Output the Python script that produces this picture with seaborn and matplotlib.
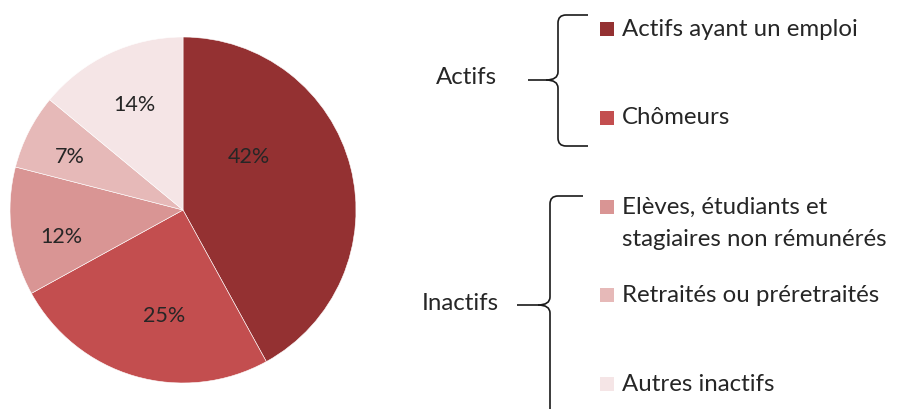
# Données
# ==============================================================================
import numpy as np
import matplotlib.pyplot as plt
from matplotlib.path import Path
from matplotlib.patches import PathPatch, Rectangle
import seaborn as sns

categories = ["Actifs ayant un emploi", "Chômeurs",
              "Elèves, étudiants et\nstagiaires non rémunérés",
              "Retraités ou préretraités", "Autres inactifs"]
values = [42, 25, 12, 7, 14]
colors = ["#943132", "#C34E4F", "#D99594", "#E6B9B8", "#F5E5E6"]
groups = ["Actifs", "Inactifs"]

# Configuración
# ==============================================================================
sns.set_theme(style="white")
plt.rcParams['font.family'] = ['Lato', 'DejaVu Sans']
TXT = "#262626"
FS = 17.3

fig = plt.figure(figsize=(8.99, 4.09), dpi=100)

# Camembert
# ==============================================================================
ax = fig.add_axes([10/899, 26/409, 346/899, 346/409])
wedges, texts, autotexts = ax.pie(
    values, colors=colors, startangle=90, counterclock=False,
    autopct=lambda p: f"{p:.0f}%", pctdistance=0.66,
    wedgeprops=dict(edgecolor="white", linewidth=0.4),
    textprops=dict(color=TXT, fontsize=15.5))
ax.set_xlim(-1, 1)
ax.set_ylim(-1, 1)
ax.set_aspect("equal")

# placement des étiquettes façon Excel (angle en degrés, rayon relatif)
label_angle = [39, 260, 192.6, 155, 114.6]
label_rad = [0.49, 0.62, 0.72, 0.72, 0.67]
for t, ang, rr in zip(autotexts, label_angle, label_rad):
    a = np.deg2rad(ang)
    t.set_position((rr*np.cos(a), rr*np.sin(a)))

# Légende et accolades (coordonnées pixels)
# ==============================================================================
ov = fig.add_axes([0, 0, 1, 1])
ov.set_xlim(0, 899)
ov.set_ylim(409, 0)
ov.axis("off")

def brace(x_tip, y_mid, x_sp, y_top, y_bot, x_end, r=8):
    M, L, C = Path.MOVETO, Path.LINETO, Path.CURVE3
    v1 = [(x_end, y_top), (x_sp + r, y_top), (x_sp, y_top), (x_sp, y_top + r),
          (x_sp, y_mid - r), (x_sp, y_mid), (x_sp - r*1.5, y_mid), (x_tip, y_mid)]
    c1 = [M, L, C, C, L, C, C, L]
    v2 = [(x_sp - r*1.5, y_mid), (x_sp, y_mid), (x_sp, y_mid + r),
          (x_sp, y_bot - r), (x_sp, y_bot), (x_sp + r, y_bot), (x_end, y_bot)]
    c2 = [M, C, C, L, C, C, L]
    for v, c in [(v1, c1), (v2, c2)]:
        ov.add_patch(PathPatch(Path(v, c), fill=False, edgecolor="#1a1a1a",
                               linewidth=1.2, capstyle="butt"))

brace(528, 80, 558, 15, 146, 588)
brace(517, 305, 550, 196, 440, 583)

ov.text(497, 78, groups[0], ha="right", va="center", fontsize=FS, color=TXT)
ov.text(499, 304, groups[1], ha="right", va="center", fontsize=FS, color=TXT)

for i, (lab, col) in enumerate(zip(categories, colors)):
    y = 29 + i*88.8
    ov.add_patch(Rectangle((600, y - 7), 14, 14, facecolor=col, edgecolor="none"))
    if "\n" in lab:
        ov.text(622, y - 10, lab, ha="left", va="top", fontsize=FS,
                color=TXT, linespacing=1.7)
    else:
        ov.text(622, y, lab, ha="left", va="center", fontsize=FS, color=TXT)

plt.savefig("out.png", dpi=100)
